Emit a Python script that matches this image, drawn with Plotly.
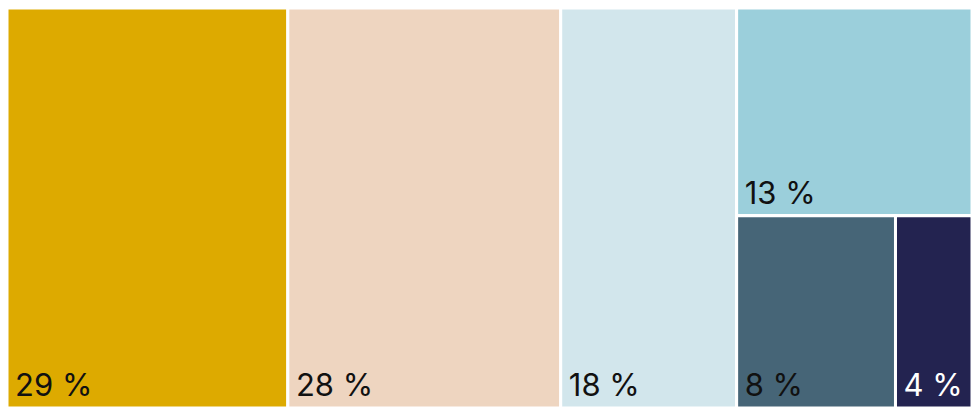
import plotly.graph_objects as go

ids = ["a", "b", "c", "g1", "d", "g2", "e", "f"]
parents = ["", "", "", "", "g1", "g1", "g2", "g2"]
labels = ["29 %", "28 %", "18 %", "", "13 %", "", "8 %", "4 %"]
leaf_values = {"a": 29.10, "b": 28.28, "c": 18.23, "d": 12.67, "e": 7.91, "f": 3.81}
colors = {"a": "#DDAA00", "b": "#EED5C0", "c": "#D2E6EC", "d": "#9BCFDB",
          "e": "#466577", "f": "#232350", "g1": "#FFFFFF", "g2": "#FFFFFF"}
text_colors = {"a": "#111111", "b": "#111111", "c": "#111111", "d": "#111111",
               "e": "#111111", "f": "#FFFFFF", "g1": "#111111", "g2": "#111111"}

vals = dict(leaf_values)
vals["g2"] = vals["e"] + vals["f"]
vals["g1"] = vals["d"] + vals["g2"]
values = [vals[i] for i in ids]


def fmt(label):
    if not label:
        return ""
    return ("<span style='font-size:18px'>\u00a0</span>"
            "<span style='font-size:31px'>" + label + "</span><br>\u00a0")


fig = go.Figure(go.Treemap(
    ids=ids, parents=parents, labels=labels, values=values,
    branchvalues="total", sort=False,
    text=[fmt(l) for l in labels], texttemplate="%{text}", textposition="bottom left",
    textfont=dict(family="Inter", size=6, color=[text_colors[i] for i in ids]),
    marker=dict(colors=[colors[i] for i in ids], line=dict(color="white", width=3),
                pad=dict(t=0, l=0, r=0, b=0)),
    tiling=dict(packing="slice-dice", pad=0),
    pathbar=dict(visible=False),
    hoverinfo="skip",
))
fig.update_layout(width=972, height=408, margin=dict(l=6.5, r=0, t=7.5, b=0, pad=0),
                  paper_bgcolor="white")
fig.write_html("out.html", config={"responsive": False, "displayModeBar": False},
               post_script="document.body.style.margin='0';"
                           "document.documentElement.style.overflow='hidden';")
